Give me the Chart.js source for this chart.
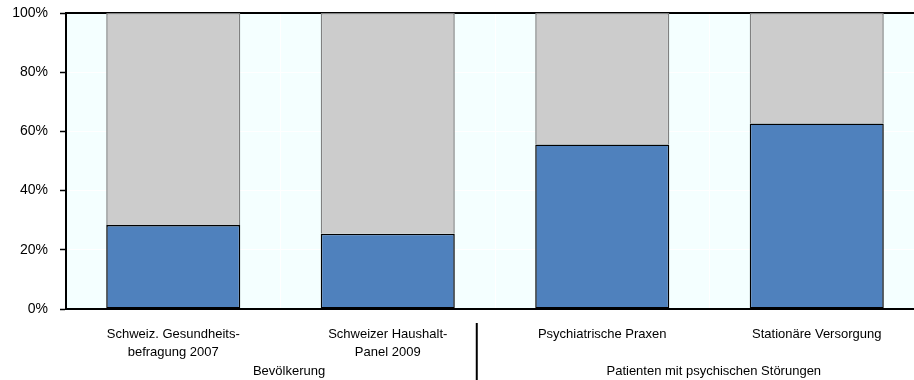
<!DOCTYPE html>
<html>
<head>
<meta charset="utf-8">
<script src="https://cdn.jsdelivr.net/npm/chart.js@4/dist/chart.umd.min.js"></script>
<style>
html,body{margin:0;padding:0;background:#fff;overflow:hidden;}
#wrap{position:relative;width:924px;height:380px;}
</style>
</head>
<body>
<div id="wrap"><canvas id="c"></canvas></div>
<script>
const categories = [
  ["Schweiz. Gesundheits-", "befragung 2007"],
  ["Schweizer Haushalt-", "Panel 2009"],
  ["Psychiatrische Praxen"],
  ["Stationäre Versorgung"]
];
const groupLabels = ["Bevölkerung", "Patienten mit psychischen Störungen"];
const bluePart = [28.4, 25.4, 55.6, 62.7];
const greyPart = [71.6, 74.6, 44.4, 37.3];
const yTicks = [0, 20, 40, 60, 80, 100];

const FAMILY = "'Liberation Sans', Arial, sans-serif";
const FSIZE = 13;
const YSIZE = 14;

const decor = {
  id: 'decor',
  beforeDraw(chart) {
    const {ctx, chartArea: a} = chart;
    ctx.save();
    ctx.fillStyle = '#F4FFFF';
    ctx.fillRect(a.left, a.top, a.right - a.left, a.bottom - a.top);
    ctx.restore();
  },
  beforeDatasetsDraw(chart) {
    const {ctx, chartArea: a} = chart;
    ctx.save();
    ctx.strokeStyle = '#000';
    ctx.lineWidth = 2;
    ctx.beginPath();
    ctx.moveTo(a.left, a.top);
    ctx.lineTo(a.right, a.top);
    ctx.stroke();
    ctx.restore();
  },
  afterDraw(chart) {
    const {ctx} = chart;
    const xs = chart.scales.x;
    const cw = xs.getPixelForValue(1) - xs.getPixelForValue(0);
    ctx.save();
    ctx.fillStyle = '#000';
    ctx.font = FSIZE + 'px ' + FAMILY;
    ctx.textAlign = 'center';
    ctx.textBaseline = 'middle';
    const y = 371;
    ctx.fillText(groupLabels[0], xs.getPixelForValue(0.5) + cw * 0.04, y);
    ctx.fillText(groupLabels[1], xs.getPixelForValue(2.5) + cw * 0.02, y);
    const sx = xs.getPixelForValue(1.5) - cw * 0.085;
    ctx.strokeStyle = '#000';
    ctx.lineWidth = 2;
    ctx.beginPath();
    ctx.moveTo(sx, 323);
    ctx.lineTo(sx, 380);
    ctx.stroke();
    ctx.restore();
  }
};

new Chart(document.getElementById('c'), {
  type: 'bar',
  data: {
    labels: categories,
    datasets: [
      {
        data: bluePart,
        backgroundColor: '#4F81BD',
        borderColor: '#000000',
        borderWidth: 1.5,
        borderSkipped: false
      },
      {
        data: greyPart,
        backgroundColor: '#CCCCCC',
        borderColor: '#808080',
        borderWidth: 1.5,
        borderSkipped: 'bottom'
      }
    ]
  },
  options: {
    responsive: true,
    maintainAspectRatio: false,
    devicePixelRatio: 1,
    animation: false,
    layout: {padding: {top: 13, right: 0, left: 0, bottom: 0}},
    plugins: {legend: {display: false}, tooltip: {enabled: false}},
    datasets: {bar: {barPercentage: 1, categoryPercentage: 0.625}},
    scales: {
      x: {
        stacked: true,
        grid: {color: '#FFFFFF', lineWidth: 1, drawTicks: false},
        border: {display: true, color: '#000', width: 2},
        ticks: {
          color: '#000',
          font: {family: FAMILY, size: FSIZE, lineHeight: 18 / FSIZE},
          padding: 16,
          maxRotation: 0,
          autoSkip: false
        },
        afterFit(s) { s.height = 71; s.paddingTop = 0; s.paddingBottom = 0; }
      },
      y: {
        stacked: true,
        min: 0,
        max: 100,
        afterBuildTicks(s) { s.ticks = yTicks.map(v => ({value: v})); },
        grid: {color: '#FFFFFF', lineWidth: 1, tickColor: '#000', tickLength: 6, tickWidth: 1.5},
        border: {display: true, color: '#000', width: 2},
        ticks: {
          color: '#000',
          font: {family: FAMILY, size: YSIZE},
          padding: 12,
          callback: v => v + '%'
        },
        afterFit(s) { s.width = 66; s.paddingTop = 0; s.paddingBottom = 0; }
      }
    }
  },
  plugins: [decor]
});
</script>
</body>
</html>
